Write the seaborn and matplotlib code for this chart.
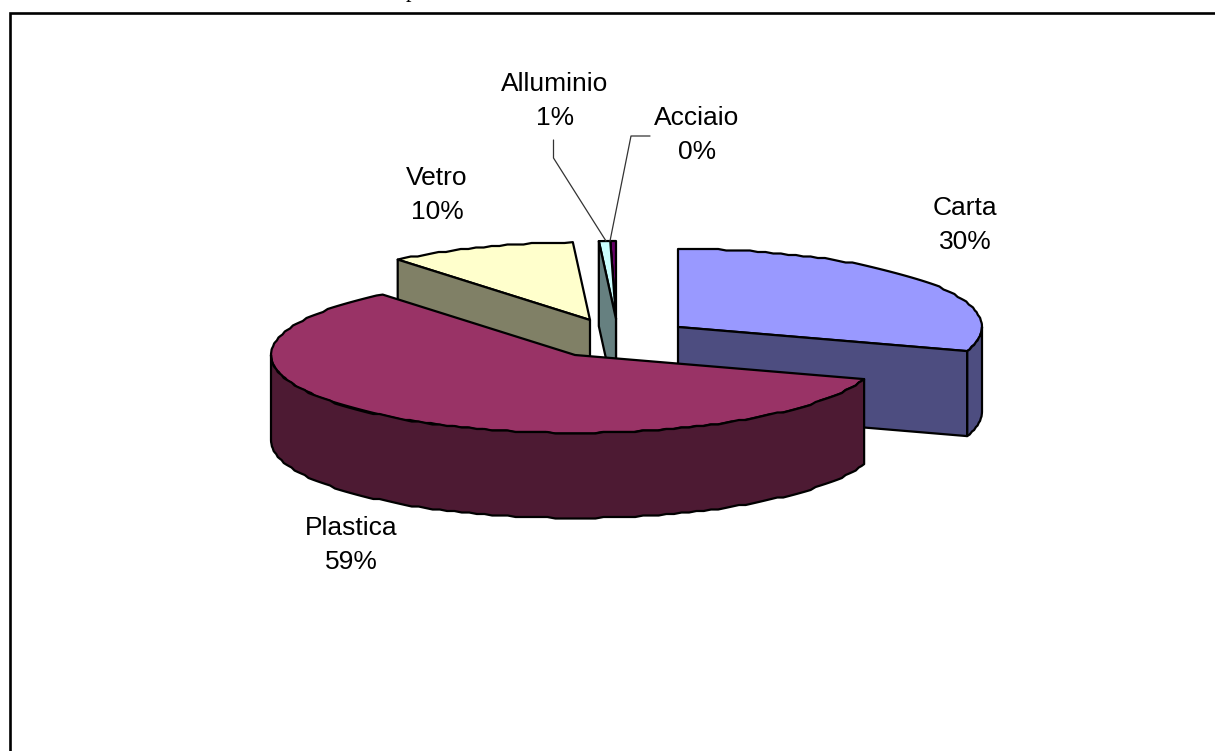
import numpy as np
import pandas as pd
import matplotlib
matplotlib.use("Agg")
import matplotlib.pyplot as plt
from matplotlib.patches import Polygon
import seaborn as sns

# values
categories = ["Carta", "Plastica", "Vetro", "Alluminio", "Acciaio"]
shares = [30.0, 59.1, 10.0, 0.6, 0.3]
pct_labels = ["30%", "59%", "10%", "1%", "0%"]

palette = sns.color_palette(["#9999ff", "#993366", "#ffffcc", "#ccffff", "#660066"])

# layout, in pixels of the 1215x751 image
W, H = 1215, 751
RX, RY, DEPTH = 304, 78, 85
centers = {
    "Carta": (678, 327),
    "Plastica": (575, 355),
    "Vetro": (590, 320),
    "Alluminio": (616, 319),
    "Acciaio": (616, 319),
}
label_pos = {
    "Carta": (965, 225),
    "Plastica": (351, 545),
    "Vetro": (437, 195),
    "Alluminio": (555, 101),
    "Acciaio": (697, 135),
}
leaders = {
    "Alluminio": ([553.5, 553.5, 606], [140, 158, 241]),
    "Acciaio": ([650, 631, 610], [136, 136, 241]),
}

sns.set_theme(style="white")
plt.rcParams["font.family"] = ["Liberation Sans", "DejaVu Sans"]

df = pd.DataFrame({"category": categories, "share": shares, "pct": pct_labels})
df["end"] = df["share"].cumsum() / df["share"].sum() * 360
df["start"] = df["end"].shift(1, fill_value=0.0)
df["color"] = list(palette)


def rim_points(cx, cy, t0, t1, dy=0):
    t = np.radians(np.linspace(t0, t1, max(int(abs(t1 - t0) / 1.5), 2)))
    pts = np.column_stack([cx + RX * np.sin(t), cy - RY * np.cos(t) + dy])
    # the original outline is slightly stepped, not a clean curve
    if len(pts) > 4:
        pts[1:-1, 1] = np.round(pts[1:-1, 1] / 1.5) * 1.5
    return pts


def add_poly(ax, pts, color, z):
    ax.add_patch(Polygon(pts, closed=True, facecolor=color, edgecolor="black",
                         linewidth=1.6, joinstyle="round", zorder=z))


def draw_slice(ax, row, z):
    cx, cy = centers[row["category"]]
    t0, t1 = row["start"], row["end"]
    wall = tuple(np.array(row["color"]) * 0.5)
    add_poly(ax, np.vstack([[cx, cy], rim_points(cx, cy, t0, t1)]), row["color"], z)

    # outer rim, only the part on the front of the ellipse
    a, b = max(t0, 90), min(t1, 270)
    if a < b:
        upper = rim_points(cx, cy, a, b)
        add_poly(ax, np.vstack([upper, upper[::-1] + [0, DEPTH]]), wall, z)

    # cut face turned towards the viewer
    if t1 <= 180 or t0 >= 180:
        t = t1 if t1 <= 180 else t0
        edge = rim_points(cx, cy, t, t)[0]
        face = [[cx, cy], edge, edge + [0, DEPTH], [cx, cy + DEPTH]]
        add_poly(ax, face, wall, z + 0.5)


fig = plt.figure(figsize=(W / 100, H / 100), dpi=100)
ax = fig.add_axes([0, 0, 1, 1])
ax.set_xlim(0, W)
ax.set_ylim(H, 0)
ax.axis("off")

# back slices first, plastica last because it covers the others
order = {"Acciaio": 1, "Alluminio": 2, "Vetro": 3, "Carta": 4, "Plastica": 5}
for _, row in df.iterrows():
    draw_slice(ax, row, order[row["category"]])

# frame: only top and left are inside the image
ax.plot([10, 10, W], [H, 12.5, 12.5], color="black", lw=1.9, zorder=6,
        solid_joinstyle="miter")

for name, (xs, ys) in leaders.items():
    ax.plot(xs, ys, color="#333333", lw=0.9, zorder=7)

for _, row in df.iterrows():
    x, y = label_pos[row["category"]]
    ax.text(x, y, row["category"] + "\n" + row["pct"], ha="center", va="center",
            fontsize=19, color="black", linespacing=1.56, zorder=8)

# tail of a line of text cut off above the frame
ax.text(411, -3, "p", family="Liberation Serif", fontsize=16, ha="center",
        va="baseline", color="black", clip_on=False)

fig.savefig("out.png", dpi=100, facecolor="white")
